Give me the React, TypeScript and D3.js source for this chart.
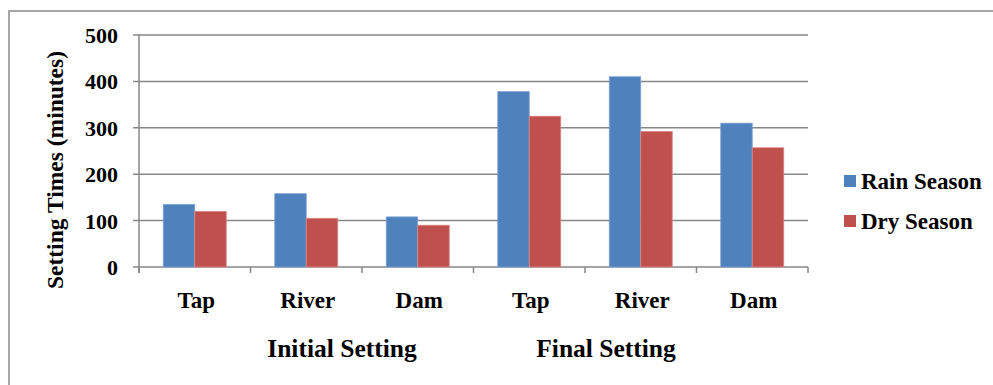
import React from "react";
import * as d3 from "d3";

const categories = ["Tap", "River", "Dam", "Tap", "River", "Dam"];
const groups = ["Initial Setting", "Final Setting"];
const seriesNames = ["Rain Season", "Dry Season"];
const rainValues = [135, 158, 108, 378, 410, 310];
const dryValues = [120, 105, 90, 325, 292, 257];
const yTicks = [0, 100, 200, 300, 400, 500];
const colors = ["#4f81bd", "#c0504d"];

const W = 993;
const H = 385;
const margin = { left: 139, right: 185, top: 35, bottom: 118 };
const font = '"Liberation Serif", "DejaVu Serif", "Times New Roman", serif';

export default function App() {
  const plotW = W - margin.left - margin.right;
  const plotH = H - margin.top - margin.bottom;
  const x = d3
    .scaleBand<number>()
    .domain(d3.range(categories.length))
    .range([margin.left, margin.left + plotW])
    .paddingInner(0)
    .paddingOuter(0);
  const inner = d3
    .scaleBand<number>()
    .domain([0, 1])
    .range([0, x.bandwidth()])
    .paddingInner(0)
    .paddingOuter(0.77);
  const y = d3
    .scaleLinear()
    .domain([0, 500])
    .range([margin.top + plotH, margin.top]);
  const series = [rainValues, dryValues];
  const y0 = y(0);
  const boundaries = d3.range(categories.length + 1).map((i) =>
    i < categories.length ? (x(i) as number) : margin.left + plotW
  );
  const textStyle = { fontFamily: font, fontWeight: 700 } as React.CSSProperties;

  return (
    <svg
      width={W}
      height={H}
      style={{ position: "absolute", left: 0, top: 0, background: "#fff" }}
    >
      <rect x={9} y={11} width={W + 10} height={H + 10} fill="#fff" stroke="#a6a6a6" strokeWidth={2} />
      {yTicks.map((t) => (
        <g key={t}>
          <line x1={margin.left - 6} x2={margin.left + plotW} y1={y(t)} y2={y(t)} stroke="#878787" strokeWidth={1.5} />
          <text x={118} y={y(t) + 8} textAnchor="end" fontSize={22} fill="#000" style={textStyle}>
            {t}
          </text>
        </g>
      ))}
      <line x1={margin.left} x2={margin.left} y1={margin.top} y2={y0 + 6} stroke="#878787" strokeWidth={1.5} />
      {boundaries.map((b, i) => (
        <line key={i} x1={b} x2={b} y1={y0} y2={y0 + 6} stroke="#878787" strokeWidth={1.5} />
      ))}
      {series.map((vals, s) =>
        vals.map((v, i) => (
          <rect
            key={`${s}-${i}`}
            x={(x(i) as number) + (inner(s) as number)}
            y={y(v)}
            width={inner.bandwidth()}
            height={y0 - y(v)}
            fill={colors[s]}
            stroke={s === 0 ? "#7fa3d6" : "#d98886"}
            strokeWidth={0.8}
          />
        ))
      )}
      {categories.map((c, i) => (
        <text
          key={i}
          x={(x(i) as number) + x.bandwidth() / 2 + 1.5}
          y={308}
          textAnchor="middle"
          fontSize={23}
          fill="#000"
          style={textStyle}
        >
          {c}
        </text>
      ))}
      <text x={342} y={357} textAnchor="middle" fontSize={25.5} fill="#000" style={textStyle}>
        {groups[0]}
      </text>
      <text x={606} y={357} textAnchor="middle" fontSize={25.5} fill="#000" style={textStyle}>
        {groups[1]}
      </text>
      <text
        transform={`translate(63, 170) rotate(-90)`}
        textAnchor="middle"
        fontSize={23.5}
        fill="#000"
        style={textStyle}
      >
        Setting Times (minutes)
      </text>
      {seriesNames.map((n, s) => (
        <g key={n} transform={`translate(844, ${181 + s * 40})`}>
          <rect x={0} y={-6} width={12} height={12} fill={colors[s]} />
          <text x={17} y={7.5} fontSize={23} fill="#000" style={textStyle}>
            {n}
          </text>
        </g>
      ))}
    </svg>
  );
}
